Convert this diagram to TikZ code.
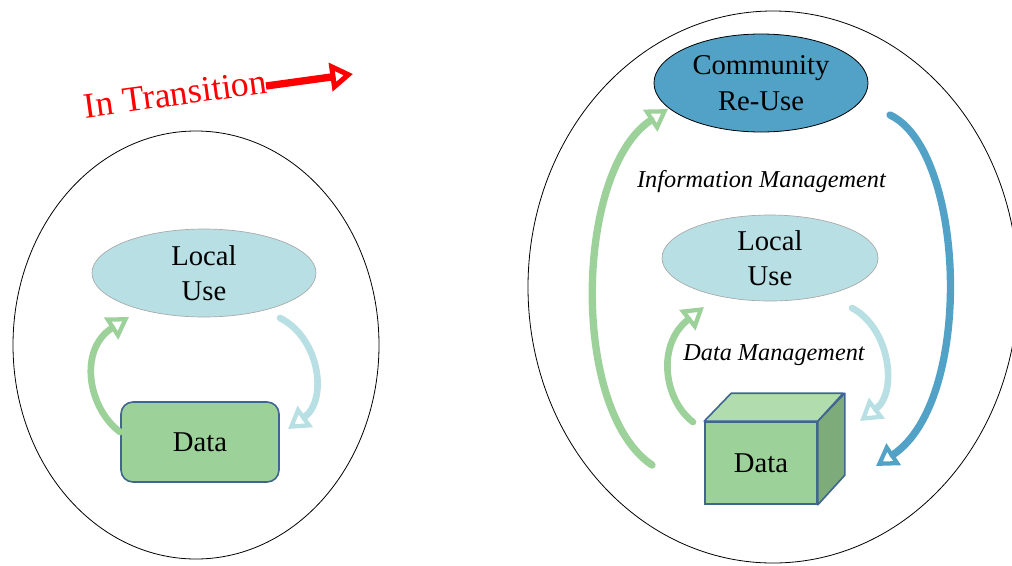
\documentclass[tikz,border=0pt]{standalone}
\usepackage{fontspec}
\setmainfont{Liberation Serif}
\usetikzlibrary{arrows.meta,shapes.geometric}

\definecolor{leafgreen}{HTML}{9DD19A}
\definecolor{leaftop}{HTML}{B1DCAD}
\definecolor{leafside}{HTML}{7EAB7A}
\definecolor{paleblue}{HTML}{B8DFE3}
\definecolor{seablue}{HTML}{52A1C7}
\definecolor{edgeblue}{HTML}{3F6590}
\definecolor{softgray}{HTML}{A8A8A8}

\tikzset{
  x=0.75pt, y=-0.75pt,
  bigtext/.style={font=\fontsize{21.5pt}{26.6pt}\selectfont, align=center},
  boundary/.style={draw=black, line width=0.6pt, ellipse, inner sep=0pt},
  useblob/.style={ellipse, fill=paleblue, draw=softgray, line width=0.5pt, inner sep=0pt, bigtext},
  flow/.style={line width=#1, line cap=round,
    -{Triangle[open, length=16pt, width=19pt, line width=3.2pt]}},
  flow/.default=5pt,
  greenflow/.style={flow, draw=leafgreen},
  paleflow/.style={flow, draw=paleblue},
  blueflow/.style={flow=5.5pt, draw=seablue},
  tag/.style={font=\fontsize{18.2pt}{22pt}\selectfont\itshape, anchor=base}
}

\begin{document}
\begin{tikzpicture}
\useasboundingbox (0,0) rectangle (1012,565);
\clip (0,0) rectangle (1012,565);

% ---------- left: local use only ----------
\node[boundary, minimum width=274.5pt, minimum height=321pt] (outerL) at (196,345) {};
\node[useblob, minimum width=168pt, minimum height=66pt] (localL) at (204,273) {Local\\Use};
\node[rectangle, rounded corners=9pt, fill=leafgreen, draw=edgeblue, line width=1.2pt,
      minimum width=118.5pt, minimum height=60pt, bigtext] (dataL) at (200,442) {Data};

\coordinate (gLs) at (120,432);  \coordinate (gLe) at (129,317);
\coordinate (pLs) at (280,318);  \coordinate (pLe) at (288,429);
\draw[greenflow] (gLs) .. controls (88,408) and (78,350) .. (gLe);
\draw[paleflow]  (pLs) .. controls (320,338) and (328,400) .. (pLe);

% ---------- transition label ----------
\node[text=red, rotate=7.8, anchor=base, inner sep=0pt,
      font=\fontsize{26.8pt}{30pt}\selectfont] (trans) at (177,105.5) {In Transition};
\coordinate (tEnd) at (353,74);
\draw[red, line width=5.5pt,
      -{Triangle[open, length=17pt, width=21pt, line width=3.8pt]}] (266,86) -- (tEnd);

% ---------- right: local use and community re-use ----------
\node[boundary, minimum width=367.5pt, minimum height=414pt] (outerR) at (773,287) {};
\node[ellipse, fill=seablue, draw=black, line width=0.6pt, inner sep=0pt, bigtext,
      minimum width=160.5pt, minimum height=73.5pt] (comm) at (761,83) {Community\\Re-Use};
\node[useblob, minimum width=162pt, minimum height=64.5pt] (localR) at (770,258) {Local\\Use};

\node[tag] (infoM) at (761.5,187) {Information Management};
\node[tag] (dataM) at (774,360) {Data Management};

% data cube
\node[rectangle, fill=leafgreen, draw=edgeblue, line width=1.2pt, inner sep=0pt,
      minimum width=84pt, minimum height=61.5pt] (dataR) at (761,463) {};
\draw[edgeblue, line width=1.2pt, line join=round, fill=leaftop]
  (dataR.north west) -- ++(27,-28) -- ++(112,0) -- (dataR.north east) -- cycle;
\draw[edgeblue, line width=1.2pt, line join=round, fill=leafside]
  (dataR.north east) -- ++(27,-28) -- ++(0,82) -- (dataR.south east) -- cycle;
\node[bigtext] at (dataR) {Data};

\coordinate (gRs) at (693,422);  \coordinate (gRe) at (704,307);
\coordinate (pRs) at (852,308);  \coordinate (pRe) at (860,421);
\draw[greenflow] (gRs) .. controls (664,400) and (656,345) .. (gRe);
\draw[paleflow]  (pRs) .. controls (890,328) and (898,392) .. (pRe);

\coordinate (GRs) at (652,465);  \coordinate (GRe) at (668,109);
\coordinate (BRs) at (890,115);  \coordinate (BRe) at (876,466);
\draw[greenflow, line width=5.5pt] (GRs) .. controls (570,410) and (575,170) .. (GRe);
\draw[blueflow] (BRs) .. controls (965,150) and (975,400) .. (BRe);
\end{tikzpicture}
\end{document}
